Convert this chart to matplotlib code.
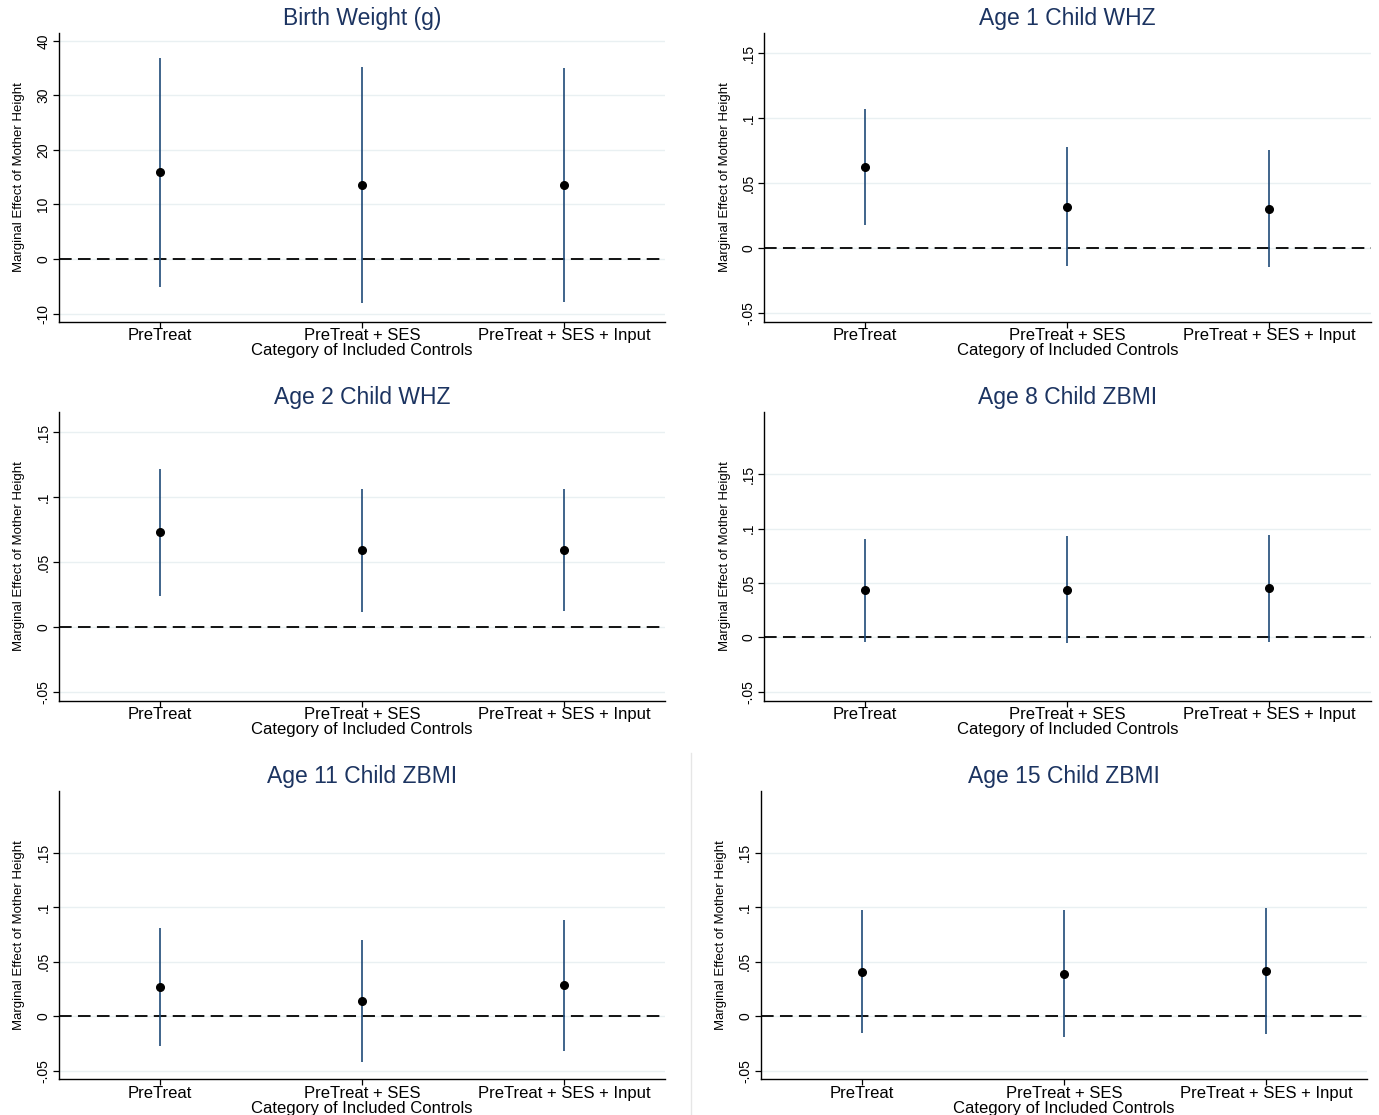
import matplotlib.pyplot as plt
import matplotlib.transforms as mtransforms
from matplotlib.lines import Line2D

# category positions / labels
categories = ["PreTreat", "PreTreat + SES", "PreTreat + SES + Input"]
cat_pos = [1, 2, 3]

# Birth weight (g)
bw_coef = [15.9, 13.6, 13.6]
bw_lo = [-5.1, -8.0, -7.95]
bw_hi = [36.9, 35.3, 35.0]

# Age 1 child WHZ
whz1_coef = [0.0623, 0.0321, 0.0305]
whz1_lo = [0.0179, -0.0136, -0.0144]
whz1_hi = [0.1069, 0.0777, 0.0754]

# Age 2 child WHZ
whz2_coef = [0.0731, 0.0590, 0.0592]
whz2_lo = [0.0241, 0.0118, 0.0126]
whz2_hi = [0.1218, 0.1064, 0.1067]

# Age 8 child ZBMI
zb8_coef = [0.0437, 0.0440, 0.0450]
zb8_lo = [-0.0037, -0.0049, -0.0040]
zb8_hi = [0.0905, 0.0930, 0.0939]

# Age 11 child ZBMI
zb11_coef = [0.0263, 0.0138, 0.0282]
zb11_lo = [-0.0275, -0.0422, -0.0318]
zb11_hi = [0.0805, 0.0697, 0.0880]

# Age 15 child ZBMI
zb15_coef = [0.0407, 0.0391, 0.0413]
zb15_lo = [-0.0159, -0.0190, -0.0165]
zb15_hi = [0.0972, 0.0972, 0.0991]

bw_ticks = [-10, 0, 10, 20, 30, 40]
bw_ticklabels = ["-10", "0", "10", "20", "30", "40"]
z_ticks = [-0.05, 0, 0.05, 0.1, 0.15]
z_ticklabels = ["-.05", "0", ".05", ".1", ".15"]

W, H = 1379, 1115
fig = plt.figure(figsize=(W / 100, H / 100), dpi=100)
fig.patch.set_facecolor("white")

TITLE_C = "#1c3461"
BAR_C = "#1f4a78"
GRID_C = "#e9f0f2"
FONT = "Liberation Sans"

panels = [
    # title, coef, lo, hi, ticks, ticklabels, ylim, box (left, top, right, bottom) px
    ("Birth Weight (g)", bw_coef, bw_lo, bw_hi, bw_ticks, bw_ticklabels,
     (-11.5, 41.5), (58.7, 32.7, 665, 321.7)),
    ("Age 1 Child WHZ", whz1_coef, whz1_lo, whz1_hi, z_ticks, z_ticklabels,
     (-0.0564, 0.1659), (764, 32.7, 1370.6, 321.7)),
    ("Age 2 Child WHZ", whz2_coef, whz2_lo, whz2_hi, z_ticks, z_ticklabels,
     (-0.0567, 0.1659), (58.7, 411.7, 665, 700.7)),
    ("Age 8 Child ZBMI", zb8_coef, zb8_lo, zb8_hi, z_ticks, z_ticklabels,
     (-0.058, 0.2072), (764, 411.7, 1370.6, 700.7)),
    ("Age 11 Child ZBMI", zb11_coef, zb11_lo, zb11_hi, z_ticks, z_ticklabels,
     (-0.058, 0.2069), (58.7, 790.7, 665, 1079.3)),
    ("Age 15 Child ZBMI", zb15_coef, zb15_lo, zb15_hi, z_ticks, z_ticklabels,
     (-0.058, 0.2069), (760.5, 790.7, 1367, 1079.3)),
]

for title, coef, lo, hi, ticks, tlabels, ylim, box in panels:
    l, t, r, b = box
    ax = fig.add_axes([l / W, 1 - b / H, (r - l) / W, (b - t) / H])
    ax.set_facecolor("white")

    for y in ticks:
        ax.axhline(y, color=GRID_C, lw=1.0, zorder=0)
    ax.axhline(0, color="black", lw=1.3, ls=(0, (7, 3.5)), zorder=1)

    ax.vlines(cat_pos, lo, hi, color=BAR_C, lw=1.2, zorder=2)
    ax.plot(cat_pos, coef, "o", color="black", ms=5.5, zorder=3)

    ax.set_xlim(0.5, 3.5)
    ax.set_ylim(*ylim)
    ax.set_xticks(cat_pos)
    ax.set_xticklabels(categories, fontsize=12, family=FONT)
    ax.set_yticks(ticks)
    ax.set_yticklabels(tlabels, fontsize=10, family=FONT, rotation=90,
                       va="center")
    ax.tick_params(axis="both", direction="out", length=4.5, width=0.9,
                   color="black")
    ax.tick_params(axis="x", pad=0)
    ax.tick_params(axis="y", pad=1.5)
    for s in ["top", "right"]:
        ax.spines[s].set_visible(False)
    for s in ["left", "bottom"]:
        ax.spines[s].set_linewidth(1.0)
        ax.spines[s].set_color("black")

    ax.set_xlabel("Category of Included Controls", fontsize=12,
                  family=FONT, labelpad=0)
    ax.set_ylabel("Marginal Effect of Mother Height", fontsize=9.5,
                  family=FONT, labelpad=8)

    tr = mtransforms.offset_copy(ax.transAxes, fig=fig, x=0, y=14.5,
                                 units="dots")
    ax.text(0.5, 1.0, title, transform=tr, ha="center", va="center",
            fontsize=16.5, family=FONT, color=TITLE_C)

# faint border of the last sub-graph
fig.add_artist(Line2D([691 / W, 691 / W], [0, 1 - 753 / H],
                      color="#e6e6e6", lw=1.0))

fig.savefig("out.png", dpi=100, facecolor="white")
